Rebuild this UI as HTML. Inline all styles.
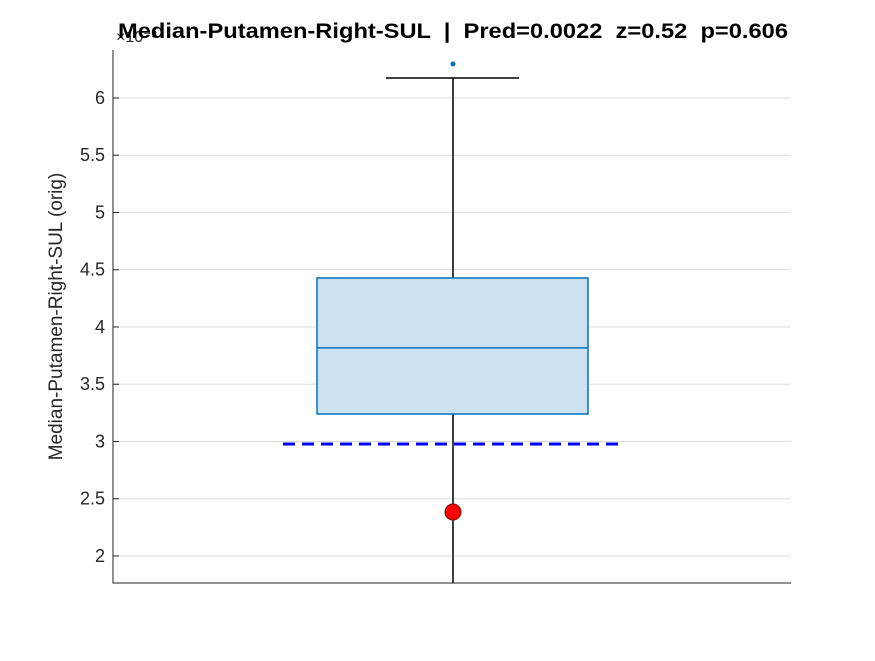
<!DOCTYPE html>
<html><head><meta charset="utf-8"><style>
body{margin:0;background:#fff;}
svg text{font-family:"Liberation Sans","DejaVu Sans",sans-serif;}
</style></head><body>
<svg id="chart" width="875" height="656"></svg>
<script>
const tickValues=[2,2.5,3,3.5,4,4.5,5,5.5,6];
const tickLabels=["2","2.5","3","3.5","4","4.5","5","5.5","6"];
const boxStats=[3.240,3.817,4.428]; // q1, median, q3
const whiskers=[1.0,6.175];
const outliers=[6.297];
const predValue=[2.384];
const refLine=[2.978];
const NS="http://www.w3.org/2000/svg";
const svg=document.getElementById('chart');
const X0=113,X1=791,Y0=50,Y1=583,ymin=1.764,ymax=6.419;
const y=v=>Y1-(v-ymin)/(ymax-ymin)*(Y1-Y0);
const cx=453;
function mk(t,a,p){const e=document.createElementNS(NS,t);for(const k in a)e.setAttribute(k,a[k]);(p||svg).appendChild(e);return e;}
const clip=mk('clipPath',{id:'c'});mk('rect',{x:X0,y:Y0,width:X1-X0,height:Y1-Y0},clip);
const grid=mk('g',{});


tickValues.forEach((v,i)=>{
 mk('line',{x1:X0,x2:X1,y1:y(v),y2:y(v),stroke:'#dedede'},grid);
 mk('line',{x1:X0,x2:X0+6,y1:y(v),y2:y(v),stroke:'#222'},grid);
 const t=mk('text',{x:X0-8,y:y(v)+6,'text-anchor':'end','font-size':18,fill:'#262626'});
 t.textContent=tickLabels[i];
 
 
});
const g=mk('g',{'clip-path':'url(#c)'});
const wl=mk('line',{x1:cx,x2:cx,y1:y(whiskers[0]),y2:y(boxStats[0]),stroke:'#000','stroke-width':1.5},g);


const wu=mk('line',{x1:cx,x2:cx,y1:y(whiskers[1]),y2:y(boxStats[2]),stroke:'#000','stroke-width':1.5},g);


const cap=mk('line',{x1:386,x2:519,y1:y(whiskers[1]),y2:y(whiskers[1]),stroke:'#000','stroke-width':1.5},g);


const box=mk('rect',{x:317,width:271,y:y(boxStats[2]),height:y(boxStats[0])-y(boxStats[2]),fill:'#cce0f0',stroke:'#0072bd','stroke-width':1.5},g);


const med=mk('line',{x1:317,x2:588,y1:y(boxStats[1]),y2:y(boxStats[1]),stroke:'#0072bd','stroke-width':1.5},g);


outliers.forEach(v=>{const o=mk('circle',{cx:cx,cy:y(v),r:2.5,fill:'#0072bd'},g);
 
 });
const dl=mk('line',{x1:283,x2:622,y1:y(refLine[0]),y2:y(refLine[0]),stroke:'#0000ff','stroke-width':3,'stroke-dasharray':'12,7'},g);


const rp=mk('circle',{cx:cx,cy:y(predValue[0]),r:8,fill:'#ff0000',stroke:'#7a0000','stroke-width':1},g);


const ax=mk('path',{d:`M${X0},${Y0}V${Y1}H${X1}`,fill:'none',stroke:'#222'});


const yl=mk('text',{x:0,y:0,transform:`translate(62,${(Y0+Y1)/2}) rotate(-90)`,'text-anchor':'middle','font-size':19,fill:'#262626'});
yl.textContent='Median-Putamen-Right-SUL (orig)';


const ex=mk('text',{x:116,y:42,'font-size':16,fill:'#262626'});
ex.textContent='×10⁻³';


const ti=mk('text',{x:118,y:38,'font-size':21,'font-weight':'bold',fill:'#000',textLength:670,lengthAdjust:'spacingAndGlyphs'});
ti.textContent='Median-Putamen-Right-SUL  |  Pred=0.0022  z=0.52  p=0.606';
ti.style.whiteSpace='pre';


</script>
</body></html>
